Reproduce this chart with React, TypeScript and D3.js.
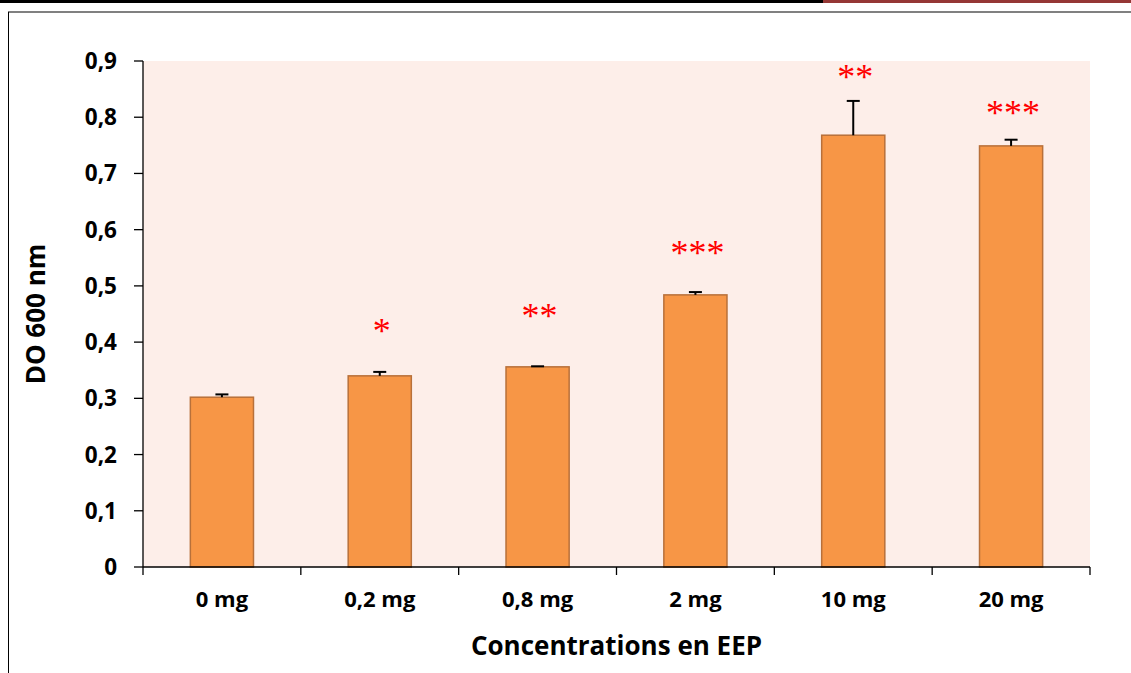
import React from "react";
import * as d3 from "d3";

const categories = ["0 mg", "0,2 mg", "0,8 mg", "2 mg", "10 mg", "20 mg"];
const means = [0.302, 0.340, 0.356, 0.484, 0.768, 0.749];
const errors = [0.005, 0.007, 0.001, 0.005, 0.061, 0.011];
const stars = ["", "*", "**", "***", "**", "***"];
const starLevels = [0, 0.429, 0.456, 0.568, 0.88, 0.817];
const yTicks = [0, 0.1, 0.2, 0.3, 0.4, 0.5, 0.6, 0.7, 0.8, 0.9];

const W = 1131;
const H = 673;
const left = 143;
const right = 1090;
const top = 61;
const bottom = 567;

export default function App() {
  const x = d3.scaleBand<string>().domain(categories).range([left, right]).paddingInner(0.6).paddingOuter(0.3);
  const band = d3.scaleBand<string>().domain(categories).range([left, right]);
  const y = d3.scaleLinear().domain([0, 0.9]).range([bottom, top]);
  const fmt = (v: number) => (v === 0 ? "0" : d3.format(".1f")(v).replace(".", ","));
  const font = "'Open Sans', sans-serif";
  const bw = x.bandwidth();

  return (
    <svg width={W} height={H} style={{ position: "absolute", left: 0, top: 0, background: "#fff" }}>
      {/* page decorations */}
      <rect x={0} y={0} width={823} height={3} fill="#000" />
      <rect x={823} y={0} width={W - 823} height={3} fill="#953735" />
      <line x1={8} x2={W} y1={12} y2={12} stroke="#808080" strokeWidth={2} />
      <line x1={8.5} x2={8.5} y1={12} y2={H} stroke="#000" strokeWidth={1} />

      {/* plot background */}
      <rect x={left} y={top} width={right - left} height={bottom - top} fill="#fdeee9" />

      {/* bars */}
      {categories.map((c, i) => (
        <rect
          key={c}
          x={x(c)!}
          y={y(means[i])}
          width={bw}
          height={y(0) - y(means[i])}
          fill="#f79646"
          stroke="#b8703a"
          strokeWidth={1.5}
        />
      ))}

      {/* error bars */}
      {categories.map((c, i) => {
        const cx = x(c)! + bw / 2;
        const y0 = y(means[i]);
        const y1 = y(means[i] + errors[i]);
        return (
          <g key={"e" + c} stroke="#000" strokeWidth={2}>
            <line x1={cx} x2={cx} y1={y0} y2={y1} />
            <line x1={cx - 6.5} x2={cx + 6.5} y1={y1} y2={y1} />
          </g>
        );
      })}

      {/* significance stars */}
      {categories.map((c, i) =>
        stars[i] ? (
          <text
            key={"s" + c}
            x={x(c)! + bw / 2 + 2}
            y={y(starLevels[i]) + 17}
            textAnchor="middle"
            fontFamily="'Liberation Serif', 'Times New Roman', serif"
            fontSize={36}
            fill="#ff0000"
          >
            {stars[i]}
          </text>
        ) : null
      )}

      {/* y axis */}
      <line x1={left} x2={left} y1={top} y2={bottom} stroke="#000" strokeWidth={1.3} />
      {yTicks.map((t) => (
        <g key={"y" + t}>
          <line x1={134} x2={left} y1={y(t)} y2={y(t)} stroke="#000" strokeWidth={1.3} />
          <text
            x={117}
            y={y(t) + 8}
            textAnchor="end"
            fontFamily={font}
            fontWeight="bold"
            fontSize={22.5}
            fill="#000"
          >
            {fmt(t)}
          </text>
        </g>
      ))}

      {/* x axis */}
      <line x1={left} x2={right} y1={bottom} y2={bottom} stroke="#000" strokeWidth={1.3} />
      {[...categories.map((c) => band(c)!), right].map((bx, i) => (
        <line key={"xt" + i} x1={bx} x2={bx} y1={bottom} y2={575} stroke="#000" strokeWidth={1.3} />
      ))}
      {categories.map((c) => (
        <text
          key={"xl" + c}
          x={band(c)! + band.bandwidth() / 2}
          y={607}
          textAnchor="middle"
          fontFamily={font}
          fontWeight="bold"
          fontSize={22}
          fill="#000"
        >
          {c}
        </text>
      ))}

      {/* axis titles */}
      <text
        x={(left + right) / 2}
        y={655}
        textAnchor="middle"
        fontFamily={font}
        fontWeight="bold"
        fontSize={26}
        fill="#000"
      >
        Concentrations en EEP
      </text>
      <text
        transform={`translate(45, ${(top + bottom) / 2}) rotate(-90)`}
        textAnchor="middle"
        fontFamily={font}
        fontWeight="bold"
        fontSize={26}
        fill="#000"
      >
        DO 600 nm
      </text>
    </svg>
  );
}
